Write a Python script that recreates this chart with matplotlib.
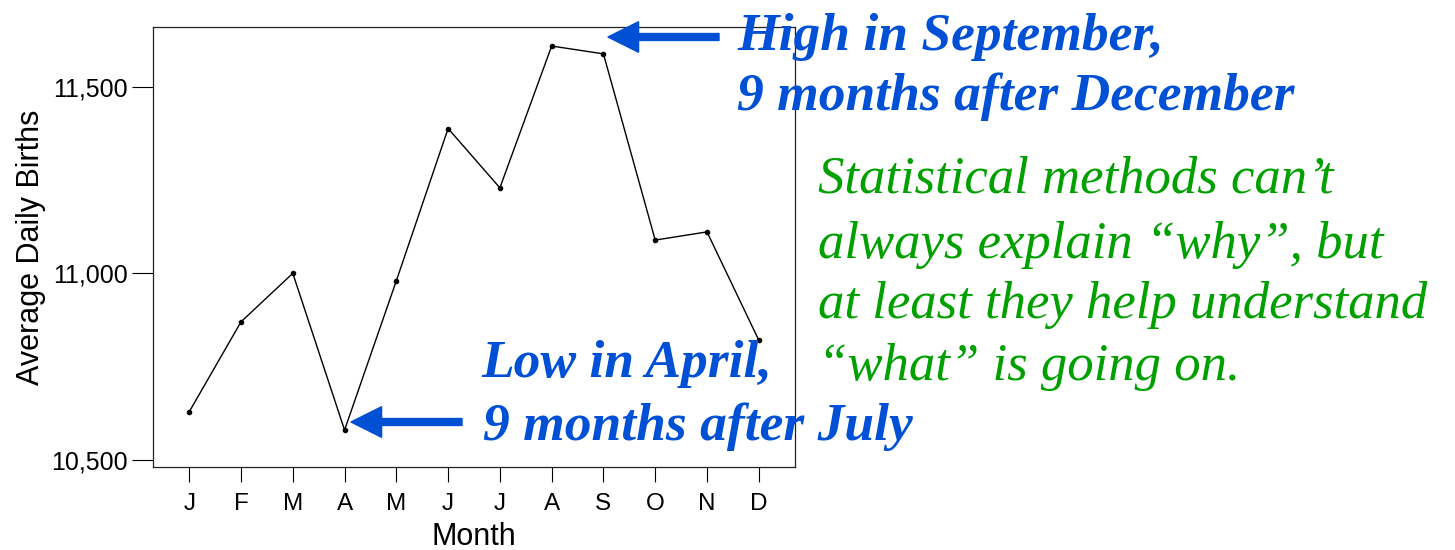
import matplotlib
matplotlib.use("Agg")
import matplotlib.pyplot as plt
from matplotlib.ticker import StrMethodFormatter

# average daily births per month
months = ["J", "F", "M", "A", "M", "J", "J", "A", "S", "O", "N", "D"]
births = [10629, 10870, 11000, 10580, 10980, 11388, 11229, 11609, 11588, 11089, 11111, 10821]
y_ticks = [10500, 11000, 11500]

high_lines = ["High in September,", "9 months after December"]
low_lines = ["Low in April,", "9 months after July"]
note_lines = ["Statistical methods can\u2019t",
              "always explain \u201cwhy\u201d, but",
              "at least they help understand",
              "\u201cwhat\u201d is going on."]

W, H = 1455, 550
fig = plt.figure(figsize=(W / 100, H / 100), dpi=100)
ax = fig.add_axes([153 / W, 1 - 467 / H, 642 / W, 440 / H])

x = list(range(1, len(months) + 1))
ax.plot(x, births, color="black", lw=1.0, marker="o", ms=3)

ax.set_xlim(0.3, 12.7)
ax.set_ylim(10481, 11660)
ax.set_xticks(x)
ax.set_xticklabels(months)
ax.set_yticks(y_ticks)
ax.yaxis.set_major_formatter(StrMethodFormatter("{x:,.0f}"))

sans = "Liberation Sans"
ax.tick_params(axis="x", direction="out", length=11, width=0.8, pad=8,
               labelsize=17.5, labelfontfamily=sans)
ax.tick_params(axis="y", direction="out", length=15, width=0.8, pad=3,
               labelsize=18, labelfontfamily=sans)
for s in ax.spines.values():
    s.set_linewidth(0.9)
    s.set_color("#222222")

ax.set_xlabel("Month", fontsize=22, family=sans, labelpad=5)
ax.set_ylabel("Average Daily Births", fontsize=22, family=sans, labelpad=4)

blue = "#0050d5"
green = "#00a000"
serif = "Liberation Serif"

# annotation text, one line at a time (baseline positions in pixels)
for txt, (px, py) in zip(high_lines, [(737, 50), (737, 110)]):
    fig.text(px / W, 1 - py / H, txt, color=blue, fontsize=38.5, family=serif,
             style="italic", weight="bold", va="baseline")
for txt, (px, py) in zip(low_lines, [(481, 377), (483, 440)]):
    fig.text(px / W, 1 - py / H, txt, color=blue, fontsize=38.5, family=serif,
             style="italic", weight="bold", va="baseline")
for txt, py in zip(note_lines, [193, 258, 318, 380]):
    fig.text(818 / W, 1 - py / H, txt, color=green, fontsize=38, family=serif,
             style="italic", va="baseline")

# arrows
arrow = dict(width=5, headwidth=22, headlength=22, color=blue, shrink=0)
ax.annotate("", xy=(608, H - 37), xytext=(719, H - 37),
            xycoords="figure pixels", textcoords="figure pixels",
            arrowprops=arrow, annotation_clip=False)
ax.annotate("", xy=(351, H - 422), xytext=(462, H - 422),
            xycoords="figure pixels", textcoords="figure pixels",
            arrowprops=arrow, annotation_clip=False)

fig.savefig("out.png", dpi=100)
